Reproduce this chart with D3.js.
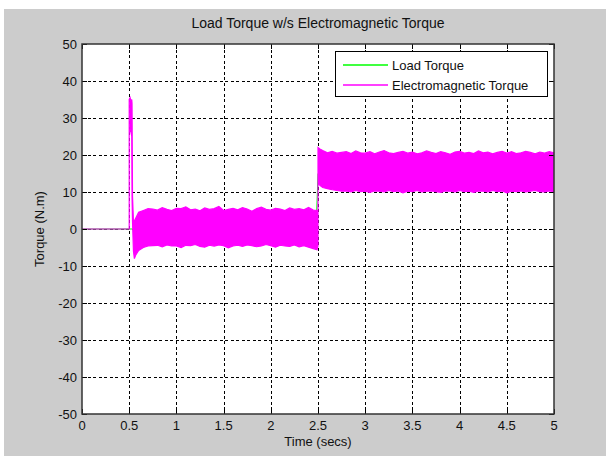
<!DOCTYPE html>
<html>
<head>
<meta charset="utf-8">
<script src="https://cdn.jsdelivr.net/npm/d3@7"></script>
<style>
  body { margin: 0; background: #fff; }
  text { font-family: "Liberation Sans", Arial, Helvetica, sans-serif; fill: #111; }
</style>
</head>
<body>
<svg id="chart"></svg>
<script>
const width = 606, height = 457;

// Tick labels
const timeTicks = [0, 0.5, 1, 1.5, 2, 2.5, 3, 3.5, 4, 4.5, 5];
const torqueTicks = [-50, -40, -30, -20, -10, 0, 10, 20, 30, 40, 50];

// Load torque (green), mostly hidden under the magenta band
const loadTime = [0, 2.48, 2.5, 5];
const loadTorque = [0, 0, 15, 15];

// Electromagnetic torque: upper / lower envelope of the fast oscillation
const emTime = [0, 0.5, 0.5, 0.51, 0.52, 0.527, 0.53, 0.535, 0.545, 0.555, 0.57, 0.6, 0.65, 0.7,
  0.75, 0.8, 0.85, 0.9, 0.95, 1, 1.05, 1.1, 1.15, 1.2, 1.25, 1.3, 1.35, 1.4, 1.45, 1.5,
  1.55, 1.6, 1.65, 1.7, 1.75, 1.8, 1.85, 1.9, 1.95, 2, 2.05, 2.1, 2.15, 2.2, 2.25, 2.3,
  2.35, 2.4, 2.45, 2.49, 2.5,
  2.5, 2.52, 2.55, 2.6, 2.65, 2.7,
  2.75, 2.8, 2.85, 2.9, 2.95, 3, 3.05, 3.1, 3.15, 3.2,
  3.25, 3.3, 3.35, 3.4, 3.45, 3.5, 3.55, 3.6, 3.65, 3.7,
  3.75, 3.8, 3.85, 3.9, 3.95, 4, 4.05, 4.1, 4.15, 4.2,
  4.25, 4.3, 4.35, 4.4, 4.45, 4.5, 4.55, 4.6, 4.65, 4.7,
  4.75, 4.8, 4.85, 4.9, 4.95, 5];
const emHigh = [0, 0, 35, 35.5, 34.5, 35, 34, 9, 2, 2.2, 3, 4.5, 5, 5.5,
  5.4, 5.1, 5.8, 5.3, 5.0, 5.6, 5.5, 6.0, 5.2, 5.4, 4.9, 5.7, 5.3, 5.5, 6.1, 5.0,
  5.3, 5.6, 5.2, 5.8, 5.4, 4.8, 5.5, 5.9, 5.3, 5.1, 5.6, 5.4, 5.0, 5.7, 5.3, 5.5,
  5.2, 5.8, 5.1, 5.0, 4.6,
  22.0, 21.6, 21.2, 20.6, 21.0, 20.5,
  20.7, 20.9, 20.4, 21.1, 20.6, 20.5, 20.9, 20.3, 20.8, 21.2,
  20.6, 20.4, 20.7, 21.0, 20.5, 20.8, 20.3, 20.6, 21.1, 20.7,
  20.4, 20.9, 20.6, 20.2, 20.8, 21.0, 20.5, 20.7, 20.4, 21.1,
  20.6, 20.8, 20.3, 20.7, 21.0, 20.5, 20.9, 20.4, 20.6, 21.0,
  20.7, 20.3, 20.8, 20.5, 20.9, 20.6];
const emLow = [0, 0, 26, 27, 26, 25, 9, 2, -6, -8, -7, -5.8, -5, -4.6,
  -4.5, -4.4, -4.8, -4.3, -4.6, -4.6, -5.0, -4.4, -4.5, -4.2, -4.7, -4.9, -4.4, -4.6, -4.3, -4.5,
  -5.1, -4.6, -4.4, -4.7, -4.3, -4.5, -4.8, -4.6, -4.2, -4.5, -4.9, -4.4, -4.6, -4.7, -4.3, -4.8,
  -4.5, -4.9, -5.3, -5.6, -4.6,
  12.4, 11.8, 11.2, 10.9, 10.6, 10.4,
  10.2, 10.3, 10.0, 10.4, 10.1, 10.2, 9.9, 10.3, 10.2, 10.0,
  10.4, 10.1, 10.3, 9.8, 10.2, 10.1, 10.4, 10.0, 10.2, 10.3,
  10.1, 9.9, 10.3, 10.2, 10.0, 10.4, 10.1, 10.2, 9.9, 10.3,
  10.2, 10.0, 10.4, 10.1, 10.3, 9.8, 10.2, 10.1, 10.3, 10.0,
  10.2, 10.4, 10.1, 10.0, 10.3, 10.1];

const seriesNames = ["Load Torque", "Electromagnetic Torque"];
const seriesColors = ["#00ff00", "#ff00ff"];

const margin = {left: 82, right: 52, top: 44, bottom: 43};

const svg = d3.select("#chart")
  .attr("width", width)
  .attr("height", height);

// gray figure background
svg.append("rect")
  .attr("x", 4).attr("y", 9)
  .attr("width", width - 4).attr("height", 447)
  .attr("fill", "#cccccc");

const x = d3.scaleLinear().domain([0, 5]).range([margin.left, width - margin.right]);
const y = d3.scaleLinear().domain([-50, 50]).range([height - margin.bottom, margin.top]);

// axes background
svg.append("rect")
  .attr("x", x(0)).attr("y", y(50))
  .attr("width", x(5) - x(0)).attr("height", y(-50) - y(50))
  .attr("fill", "#fff");

svg.append("clipPath").attr("id", "clip")
  .append("rect")
  .attr("x", x(0)).attr("y", y(50))
  .attr("width", x(5) - x(0)).attr("height", y(-50) - y(50));

// dashed grid
const grid = svg.append("g").attr("stroke", "#000").attr("stroke-width", 1)
  .attr("stroke-dasharray", "3,2.5").attr("shape-rendering", "crispEdges");
grid.selectAll(".vg")
  .data(timeTicks.slice(1, -1))
  .enter().append("line")
  .attr("x1", d => Math.round(x(d)) + 0.5).attr("x2", d => Math.round(x(d)) + 0.5)
  .attr("y1", y(50)).attr("y2", y(-50));
grid.selectAll(".hg")
  .data(torqueTicks.slice(1, -1))
  .enter().append("line")
  .attr("y1", d => Math.round(y(d)) + 0.5).attr("y2", d => Math.round(y(d)) + 0.5)
  .attr("x1", x(0)).attr("x2", x(5));

// data
const plot = svg.append("g").attr("clip-path", "url(#clip)");

const loadPts = loadTime.map((t, i) => [t, loadTorque[i]]);
plot.append("path")
  .datum(loadPts)
  .attr("fill", "none")
  .attr("stroke", seriesColors[0])
  .attr("stroke-width", 1)
  .attr("d", d3.line().x(d => x(d[0])).y(d => y(d[1])));

const emPts = emTime.map((t, i) => ({t: t, hi: emHigh[i], lo: emLow[i]}));
plot.append("path")
  .datum(emPts)
  .attr("fill", seriesColors[1])
  .attr("stroke", seriesColors[1])
  .attr("stroke-width", 1.2)
  .attr("d", d3.area().x(d => x(d.t)).y0(d => y(d.lo)).y1(d => y(d.hi)));

// tick marks inside the box, on all four sides
const ticks = svg.append("g").attr("stroke", "#000").attr("stroke-width", 1)
  .attr("shape-rendering", "crispEdges");
timeTicks.forEach(d => {
  const px = Math.round(x(d)) + 0.5;
  ticks.append("line").attr("x1", px).attr("x2", px).attr("y1", y(-50)).attr("y2", y(-50) - 5);
  ticks.append("line").attr("x1", px).attr("x2", px).attr("y1", y(50)).attr("y2", y(50) + 5);
});
torqueTicks.forEach(d => {
  const py = Math.round(y(d)) + 0.5;
  ticks.append("line").attr("y1", py).attr("y2", py).attr("x1", x(0)).attr("x2", x(0) + 5);
  ticks.append("line").attr("y1", py).attr("y2", py).attr("x1", x(5)).attr("x2", x(5) - 5);
});

// axes box
svg.append("rect")
  .attr("x", x(0)).attr("y", y(50))
  .attr("width", x(5) - x(0)).attr("height", y(-50) - y(50))
  .attr("fill", "none")
  .attr("stroke", "#333")
  .attr("stroke-width", 1.5);

// tick labels
svg.selectAll(".xl")
  .data(timeTicks)
  .enter().append("text")
  .attr("x", d => x(d))
  .attr("y", y(-50) + 16)
  .attr("text-anchor", "middle")
  .attr("font-size", 13)
  .text(d => d);

svg.selectAll(".yl")
  .data(torqueTicks)
  .enter().append("text")
  .attr("x", x(0) - 5)
  .attr("y", d => y(d) + 5)
  .attr("text-anchor", "end")
  .attr("font-size", 13)
  .text(d => d);

// titles
svg.append("text")
  .attr("x", (x(0) + x(5)) / 2)
  .attr("y", 28)
  .attr("text-anchor", "middle")
  .attr("font-size", 14)
  .text("Load Torque w/s Electromagnetic Torque");

svg.append("text")
  .attr("x", (x(0) + x(5)) / 2)
  .attr("y", 446)
  .attr("text-anchor", "middle")
  .attr("font-size", 13)
  .text("Time (secs)");

svg.append("text")
  .attr("transform", `translate(44, ${(y(50) + y(-50)) / 2}) rotate(-90)`)
  .attr("text-anchor", "middle")
  .attr("font-size", 13)
  .text("Torque (N.m)");

// legend
const legend = svg.append("g");
legend.append("rect")
  .attr("x", 335.5).attr("y", 51.5)
  .attr("width", 212).attr("height", 45)
  .attr("fill", "#fff")
  .attr("stroke", "#000")
  .attr("stroke-width", 1);
seriesNames.forEach((name, i) => {
  const ly = 65 + i * 20;
  legend.append("line")
    .attr("x1", 343).attr("x2", 388)
    .attr("y1", ly).attr("y2", ly)
    .attr("stroke", seriesColors[i])
    .attr("stroke-width", 1.5);
  legend.append("text")
    .attr("x", 392)
    .attr("y", ly + 5)
    .attr("font-size", 13)
    .text(name);
});
</script>
</body>
</html>
